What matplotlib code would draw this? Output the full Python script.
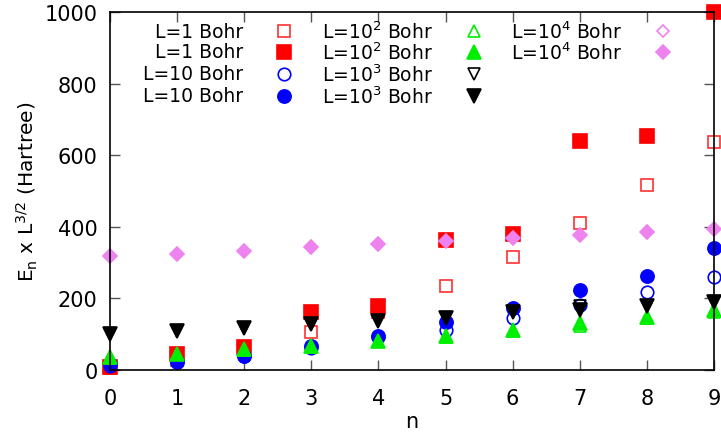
# Scaled energies vs. level index, gnuplot-like look
import numpy as np
import matplotlib.pyplot as plt

n = np.arange(10)

# values
sq_open = [5, 28, 60, 106, 161, 234, 315, 410, 517, 636]
sq_fill = [8, 45, 64, 162, 179, 363, 379, 639, 653, 1000]
circ_open = [12, 25, 40, 62, 92, 112, 145, 181, 218, 260]
circ_fill = [17, 22, 39, 67, 95, 134, 172, 223, 262, 340]
tri_open = [33, 44, 55, 65, 80, 93, 110, 122, 145, 163]
tri_fill = [36, 45, 59, 67, 81, 95, 112, 131, 148, 168]
tdown_open = [100, 109, 117, 128, 137, 145, 161, 178, 179, 190]
tdown_fill = [100, 109, 117, 128, 137, 145, 161, 168, 179, 190]
dia_open = [318, 325, 333, 343, 351, 360, 368, 377, 385, 393]
dia_fill = [318, 325, 333, 343, 351, 360, 368, 377, 385, 393]

labels = ['L=1 Bohr', 'L=1 Bohr', 'L=10 Bohr', 'L=10 Bohr',
          r'L=10$^2$ Bohr', r'L=10$^2$ Bohr', r'L=10$^3$ Bohr', r'L=10$^3$ Bohr',
          r'L=10$^4$ Bohr', r'L=10$^4$ Bohr']

# (values, marker, color, filled, size)
series = [
    (sq_open, 's', '#ff3030', False, 9),
    (sq_fill, 's', '#ff0000', True, 9.5),
    (circ_open, 'o', '#0000ff', False, 9),
    (circ_fill, 'o', '#0000ff', True, 9.5),
    (tri_open, '^', '#00ee00', False, 9),
    (tri_fill, '^', '#00ee00', True, 9.5),
    (tdown_open, 'v', 'black', False, 9),
    (tdown_fill, 'v', 'black', True, 9.5),
    (dia_open, 'D', '#ee82ee', False, 6.5),
    (dia_fill, 'D', '#ee82ee', True, 7),
]

plt.rcParams['font.family'] = 'DejaVu Sans'
plt.rcParams['mathtext.fontset'] = 'dejavusans'

fig = plt.figure(figsize=(7.21, 4.35), dpi=100)
ax = fig.add_axes([110 / 721, 1 - 371 / 435, 604 / 721, 358 / 435])

for vals, m, c, filled, ms in series:
    ax.plot(n, vals, linestyle='none', marker=m, markersize=ms,
            markerfacecolor=c if filled else 'none', markeredgecolor=c,
            markeredgewidth=1.2, clip_on=False)

ax.set_xlim(0, 9)
ax.set_ylim(0, 1000)
ax.set_xticks(range(10))
ax.set_yticks(range(0, 1001, 200))
ax.tick_params(direction='in', length=7, width=1, labelsize=15,
               top=True, right=True, color='#555555')
ax.tick_params(axis='x', pad=13)
ax.tick_params(axis='y', pad=9)
for s in ax.spines.values():
    s.set_linewidth(1.2)

ax.set_xlabel('n', fontsize=15, labelpad=2)
ax.set_ylabel(r'E$_\mathrm{n}$ x L$^{3/2}$ (Hartree)', fontsize=14.5, labelpad=3)

# legend drawn by hand: right-aligned text, key to the right (gnuplot style)
text_x = [243, 433, 622]
key_x = [284, 474, 663]
row_y = [32, 53, 75, 97]
for i, (vals, m, c, filled, ms) in enumerate(series):
    col, row = divmod(i, 4)
    tx = (text_x[col] - 110) / 604
    kx = (key_x[col] - 110) / 604
    yy = (371 - row_y[row]) / 358
    ax.text(tx, yy, labels[i], transform=ax.transAxes, ha='right', va='center',
            fontsize=13.5)
    ax.plot([kx], [yy], transform=ax.transAxes, linestyle='none', marker=m,
            markersize=ms, markerfacecolor=c if filled else 'none',
            markeredgecolor=c, markeredgewidth=1.2, clip_on=False)

fig.savefig('out.png', dpi=100)
